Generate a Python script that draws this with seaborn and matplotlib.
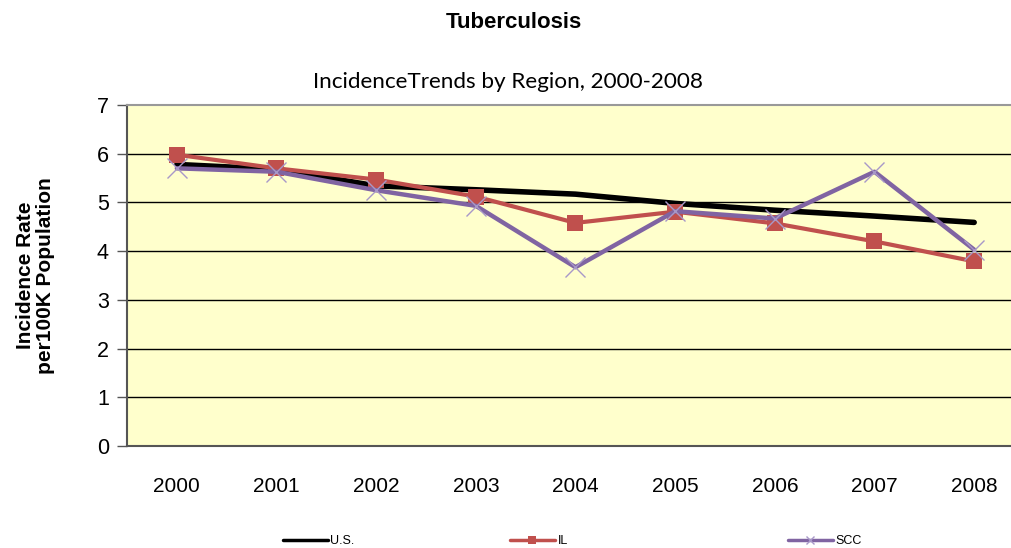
import numpy as np
import pandas as pd
import seaborn as sns
import matplotlib.pyplot as plt
from matplotlib.lines import Line2D

years = ["2000", "2001", "2002", "2003", "2004", "2005", "2006", "2007", "2008"]
us = [5.78, 5.68, 5.34, 5.26, 5.17, 4.98, 4.84, 4.72, 4.59]
il = [5.98, 5.70, 5.47, 5.12, 4.58, 4.81, 4.57, 4.20, 3.79]
scc = [5.70, 5.63, 5.25, 4.93, 3.67, 4.82, 4.67, 5.63, 4.03]
series_names = ["U.S.", "IL", "SCC"]

df = pd.DataFrame({"Year": years, "U.S.": us, "IL": il, "SCC": scc})
df["pos"] = np.arange(len(years))
long = df.melt(id_vars=["Year", "pos"], value_vars=series_names, var_name="Region", value_name="Rate")

sns.set_style("white")
plt.rcParams["font.family"] = ["Liberation Sans", "DejaVu Sans"]
plt.rcParams["text.color"] = "black"
plt.rcParams["axes.labelcolor"] = "black"
plt.rcParams["xtick.labelcolor"] = "black"
plt.rcParams["ytick.labelcolor"] = "black"

fig = plt.figure(figsize=(10.12, 5.48), dpi=100)
ax = fig.add_axes([127 / 1012, 1 - 446 / 548, 897 / 1012, 341 / 548])
ax.set_facecolor("#FFFFCC")

col = {"U.S.": "black", "IL": "#C0504D", "SCC": "#8064A2"}
sns.lineplot(data=long[long.Region == "U.S."], x="pos", y="Rate", color=col["U.S."], lw=4, ax=ax, legend=False, zorder=3)
sns.lineplot(data=long[long.Region == "IL"], x="pos", y="Rate", color=col["IL"], lw=3, marker="s", markersize=12,
             markeredgewidth=0, ax=ax, legend=False, zorder=4)
sns.lineplot(data=long[long.Region == "SCC"], x="pos", y="Rate", color=col["SCC"], lw=3.2, marker="x", markersize=14,
             markeredgewidth=1, markeredgecolor="#A898C8", ax=ax, legend=False, zorder=5)

ax.set_xlim(-0.5, len(years) - 0.5)
ax.set_ylim(0, 7)
ax.set_yticks(range(0, 8))
ax.set_xticks(np.arange(len(years)))
ax.set_xticklabels(years)
ax.set_xticks(np.arange(-0.5, len(years)), minor=True)
ax.tick_params(axis="x", which="major", length=0, pad=22, labelsize=15, labelcolor="black")
ax.tick_params(axis="x", which="minor", length=8, width=1, color="#555555", direction="out")
ax.tick_params(axis="y", length=7, width=1, color="#555555", direction="out", labelsize=15.5, pad=6, left=True,
               labelcolor="black")
for y in range(1, 7):
    ax.axhline(y, color="black", lw=1, zorder=1)
ax.spines["right"].set_visible(False)
ax.spines["top"].set_color("#999999")
ax.spines["top"].set_linewidth(1.5)
ax.spines["bottom"].set_color("#555555")
ax.spines["bottom"].set_linewidth(1.5)
ax.spines["left"].set_color("#555555")
ax.spines["left"].set_linewidth(1.5)
ax.set_xlabel("")
ax.set_ylabel("Incidence Rate\nper100K Population", fontsize=15, fontweight="bold", labelpad=30, linespacing=1.05,
              color="black")

fig.text(0.508, 1 - 22 / 548, "Tuberculosis", ha="center", va="center", fontsize=16, fontweight="bold", color="black")
fig.text(0.502, 1 - 82 / 548, "IncidenceTrends by Region, 2000-2008", ha="center", va="center", fontsize=16.2,
         family=["Lato", "DejaVu Sans"], color="black")

handles = [
    Line2D([], [], color=col["U.S."], lw=2.5),
    Line2D([], [], color=col["IL"], lw=2.5, marker="s", markersize=6, markeredgewidth=0),
    Line2D([], [], color=col["SCC"], lw=2.5, marker="x", markersize=6, markeredgewidth=1, markeredgecolor="#A898C8"),
]
starts = [283, 510, 788]
for h, name, x0 in zip(handles, series_names, starts):
    leg = fig.legend([h], [name], loc="center left", bbox_to_anchor=(x0 / 1012, 1 - 541 / 548), frameon=False,
                     fontsize=9, handlelength=3.6, handletextpad=0.2, borderpad=0, borderaxespad=0)
    for t in leg.get_texts():
        t.set_color("black")

fig.savefig("out.png", dpi=100)
